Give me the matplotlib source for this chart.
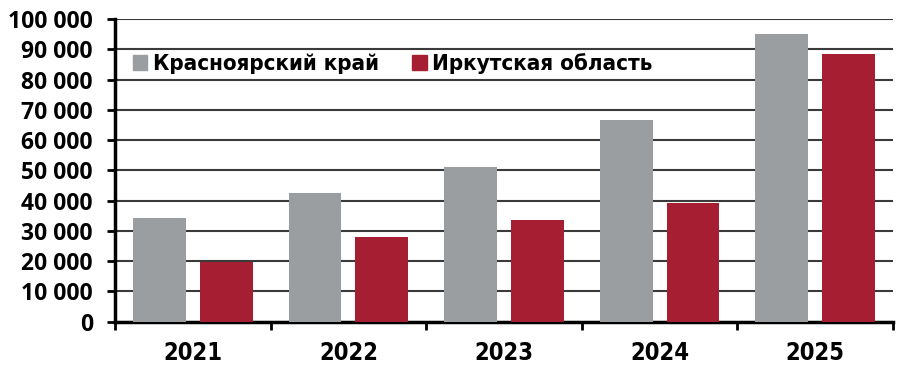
import numpy as np
import matplotlib.pyplot as plt
from matplotlib.ticker import FuncFormatter
from matplotlib.patches import Patch

# values
years = ['2021', '2022', '2023', '2024', '2025']
krasnoyarsk = [34200, 42500, 51100, 66600, 95200]
irkutsk = [19600, 28000, 33600, 39200, 88600]
labels = ['Красноярский край', 'Иркутская область']

gray = '#9a9ea1'
red = '#a51e32'

fig = plt.figure(figsize=(9, 3.74), dpi=100)
ax = fig.add_axes([0.128, 0.140, 0.864, 0.809])

x = np.arange(len(years))
w = 0.34
ax.bar(x - 0.215, krasnoyarsk, w, color=gray, zorder=3)
ax.bar(x + 0.215, irkutsk, w, color=red, zorder=3)

ax.set_xlim(-0.5, len(years) - 0.5)
ax.set_ylim(0, 100000)
ax.set_yticks(np.arange(0, 100001, 10000))
ax.yaxis.set_major_formatter(FuncFormatter(lambda v, p: f'{int(v):,}'.replace(',', ' ')))
ax.grid(axis='y', color='#3a3a3a', linewidth=1.5, zorder=0)

# x ticks at category boundaries, labels centred under groups
ax.set_xticks(np.arange(-0.5, len(years)), minor=False)
ax.set_xticklabels([])
ax.set_xticks(x, minor=True)
ax.set_xticklabels(years, minor=True, fontsize=17, fontweight='bold',
                   fontstretch='condensed', family='DejaVu Sans')
ax.tick_params(axis='x', which='minor', length=0, pad=14)
ax.tick_params(axis='x', which='major', length=6, width=2, direction='out')
ax.tick_params(axis='y', length=6, width=2, labelsize=16.5, pad=10)
for t in ax.get_yticklabels():
    t.set_fontweight('bold')
    t.set_family(['Open Sans', 'DejaVu Sans'])

for s in ['top', 'right']:
    ax.spines[s].set_visible(False)
for s in ['left', 'bottom']:
    ax.spines[s].set_linewidth(2.5)
    ax.spines[s].set_color('black')

handles = [Patch(color=gray), Patch(color=red)]
ax.legend(handles, labels, loc='upper left', bbox_to_anchor=(-0.006, 0.96), ncol=2,
          frameon=False, handlelength=0.65, handleheight=0.7, handletextpad=0.25,
          columnspacing=1.5, borderaxespad=0.6,
          prop={'family': 'DejaVu Sans', 'stretch': 'condensed', 'weight': 'bold', 'size': 16})

fig.savefig('out.png', dpi=100)
